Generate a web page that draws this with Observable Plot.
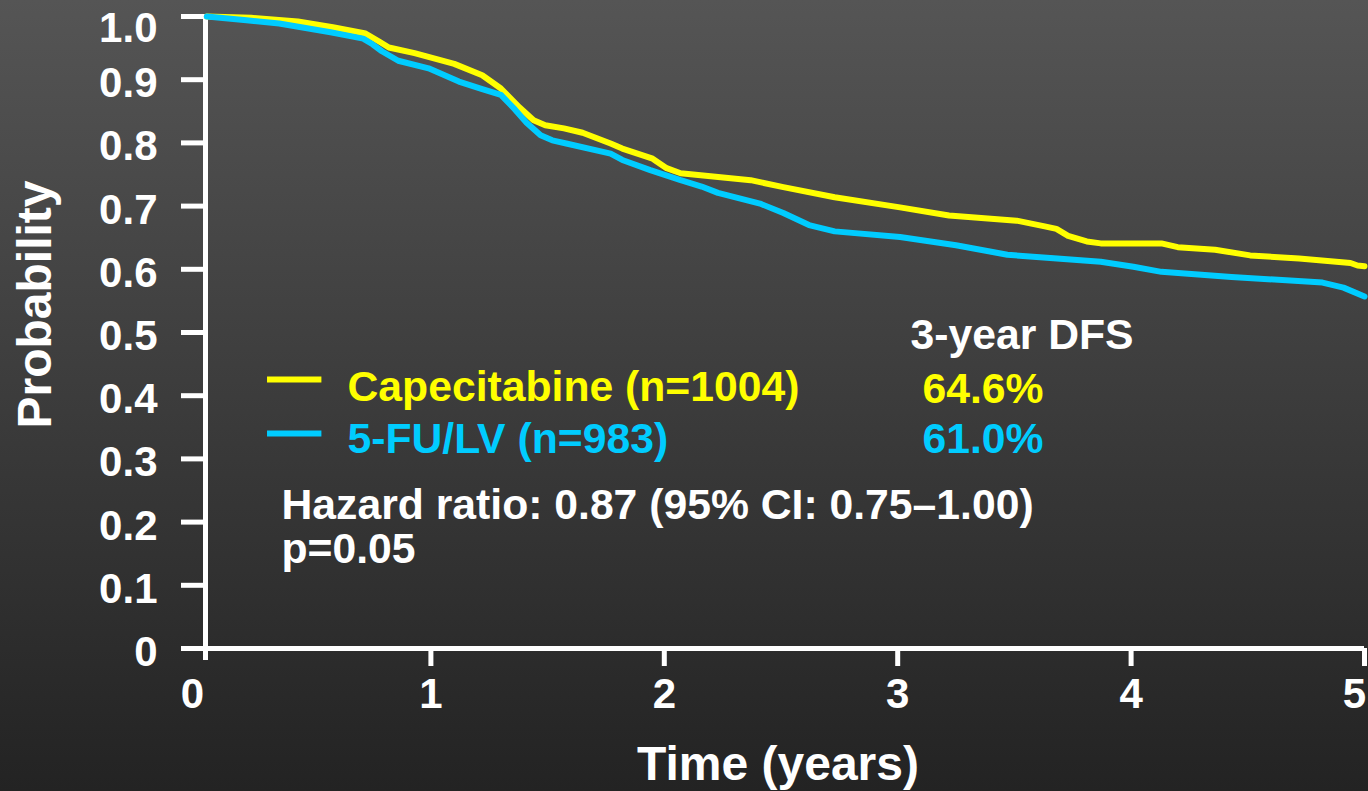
<!DOCTYPE html>
<html>
<head>
<meta charset="utf-8">
<script src="https://cdn.jsdelivr.net/npm/d3@7"></script>
<script src="https://cdn.jsdelivr.net/npm/@observablehq/plot@0.6"></script>
<style>
  html, body { margin: 0; padding: 0; width: 1368px; height: 791px; overflow: hidden;
    background: linear-gradient(to bottom, #555555 0%, #232323 100%); }
  #chart svg { display: block; overflow: visible; }
</style>
</head>
<body>
<div id="chart"></div>
<script>
// ---- data ----
const seriesNames = ["Capecitabine (n=1004)", "5-FU/LV (n=983)"];
const seriesColors = ["#ffff00", "#00ccff"];
const dfs3yr = ["64.6%", "61.0%"];
const dfsHeader = "3-year DFS";
const hazardText = "Hazard ratio: 0.87 (95% CI: 0.75\u20131.00)";
const pText = "p=0.05";
const xLabel = "Time (years)";
const yLabel = "Probability";

const capeTime = [0.04, 0.23, 0.43, 0.58, 0.72, 0.78, 0.82, 0.93, 1.10, 1.22, 1.30, 1.38, 1.44, 1.49, 1.57, 1.65, 1.77, 1.82, 1.95, 2.01, 2.07, 2.37, 2.51, 2.73, 3.01, 3.22, 3.51, 3.63, 3.68, 3.73, 3.81, 3.87, 4.13, 4.20, 4.36, 4.51, 4.72, 4.94, 4.97, 5.0];
const capeSurv = [1.0, 0.998, 0.992, 0.983, 0.973, 0.960, 0.951, 0.942, 0.925, 0.907, 0.886, 0.856, 0.836, 0.828, 0.823, 0.816, 0.799, 0.791, 0.775, 0.760, 0.752, 0.741, 0.730, 0.714, 0.698, 0.685, 0.677, 0.668, 0.664, 0.653, 0.644, 0.641, 0.641, 0.635, 0.631, 0.622, 0.617, 0.610, 0.606, 0.605];
const fuTime = [0.04, 0.21, 0.35, 0.57, 0.71, 0.75, 0.79, 0.86, 0.99, 1.12, 1.22, 1.30, 1.36, 1.41, 1.47, 1.52, 1.58, 1.77, 1.82, 1.94, 2.07, 2.16, 2.23, 2.41, 2.51, 2.62, 2.73, 3.01, 3.25, 3.47, 3.87, 4.01, 4.13, 4.43, 4.82, 4.91, 5.0];
const fuSurv = [1.0, 0.994, 0.989, 0.975, 0.965, 0.956, 0.945, 0.930, 0.918, 0.897, 0.885, 0.876, 0.853, 0.832, 0.812, 0.804, 0.799, 0.783, 0.773, 0.757, 0.741, 0.731, 0.721, 0.704, 0.689, 0.670, 0.660, 0.651, 0.638, 0.623, 0.612, 0.604, 0.596, 0.588, 0.579, 0.571, 0.557];

const xTicks = [0, 1, 2, 3, 4, 5];
const xTickLabels = ["0", "1", "2", "3", "4", "5"];
const yTicks = [0, 0.1, 0.2, 0.3, 0.4, 0.5, 0.6, 0.7, 0.8, 0.9, 1.0];
const yTickLabels = ["0", "0.1", "0.2", "0.3", "0.4", "0.5", "0.6", "0.7", "0.8", "0.9", "1.0"];

// ---- build table ----
const rows = [
  ...capeTime.map((t, i) => ({series: seriesNames[0], t, s: capeSurv[i]})),
  ...fuTime.map((t, i) => ({series: seriesNames[1], t, s: fuSurv[i]}))
];
const yFmt = d => yTickLabels[yTicks.findIndex(v => Math.abs(v - d) < 1e-9)];
const xFmt = d => xTickLabels[xTicks.indexOf(d)];

const font = {fontFamily: "'Liberation Sans', Arial, sans-serif", fontWeight: "bold"};
const annot = (text, fill, dx, dy) => Plot.text([text], {
  frameAnchor: "top-left", textAnchor: "start", lineAnchor: "bottom",
  dx, dy, fill, fontSize: 42.7, ...font
});
const xText = (ticks, dx) => Plot.axisX(ticks, {tickSize: 18, tickPadding: 12, stroke: "none", fill: "white",
  fontSize: 42, dx, tickFormat: xFmt, ...font, label: null});
const yText = (ticks, dy) => Plot.axisY(ticks, {tickSize: 24, tickPadding: 16, stroke: "none", fill: "white",
  fontSize: 42, dy, tickFormat: yFmt, ...font, label: null});

const chart = Plot.plot({
  width: 1368,
  height: 791,
  marginLeft: 197,
  marginRight: 4,
  marginTop: 16,
  marginBottom: 143,
  style: {background: "transparent", color: "white", overflow: "visible", ...font},
  x: {domain: [0, 5]},
  y: {domain: [0, 1]},
  color: {domain: seriesNames, range: seriesColors},
  marks: [
    // axis lines (the vertical axis sits just right of x = 0)
    Plot.ruleX([0], {dx: 8, insetBottom: -12, stroke: "white", strokeWidth: 5}),
    Plot.ruleY([0], {insetLeft: 8, stroke: "white", strokeWidth: 5}),
    // x ticks + labels
    Plot.axisX(xTicks.slice(1), {tickSize: 18, strokeWidth: 5, stroke: "white", fill: "none", label: null}),
    xText(xTicks.slice(1, -1), 0),
    xText(xTicks.slice(0, 1), -5),
    xText(xTicks.slice(-1), -10),
    // y ticks + labels
    Plot.axisY(yTicks, {tickSize: 24, dx: 8, strokeWidth: 5, stroke: "white", fill: "none", label: null}),
    yText(yTicks.slice(0, -1), 4),
    yText(yTicks.slice(-1), 12),
    // axis titles
    Plot.text([yLabel], {frameAnchor: "left", textAnchor: "middle", lineAnchor: "middle", rotate: -90,
      dx: -162, dy: -28, fill: "white", fontSize: 48, ...font}),
    Plot.text([xLabel], {frameAnchor: "bottom", textAnchor: "middle", lineAnchor: "middle",
      dx: -3, dy: 116, fill: "white", fontSize: 48, ...font}),
    // survival curves
    Plot.line(rows, {x: "t", y: "s", stroke: "series", z: "series", strokeWidth: 6, strokeLinejoin: "round"}),
    // legend swatches
    Plot.ruleY(seriesNames, {y: (d, i) => [0.4256, 0.3402][i], x1: 0.30, x2: 0.533, stroke: d => d, strokeWidth: 6}),
    // legend + annotation text
    annot(seriesNames[0], seriesColors[0], 150, 384),
    annot(seriesNames[1], seriesColors[1], 150, 436),
    annot(dfsHeader, "white", 713, 332),
    annot(dfs3yr[0], seriesColors[0], 725, 386),
    annot(dfs3yr[1], seriesColors[1], 725, 436),
    annot(hazardText, "white", 84, 502),
    annot(pText, "white", 84, 546)
  ]
});
document.getElementById("chart").appendChild(chart);
</script>
</body>
</html>
